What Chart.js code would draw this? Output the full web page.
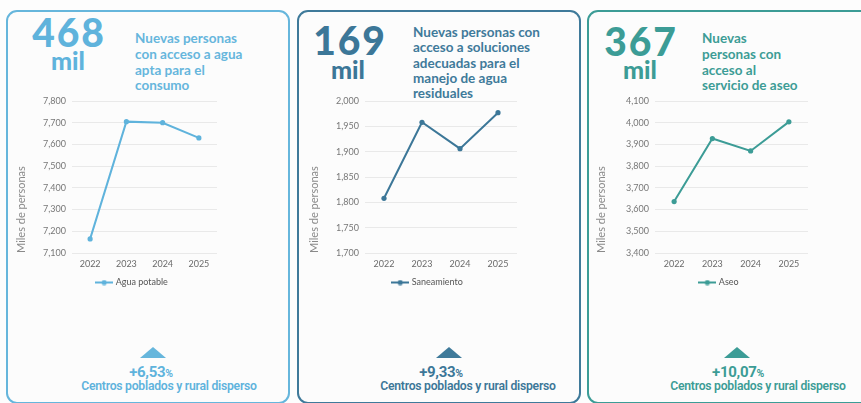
<!DOCTYPE html>
<html><head><meta charset="utf-8">
<script src="https://cdn.jsdelivr.net/npm/chart.js@4.4.1/dist/chart.umd.min.js"></script>
<style>
html,body{margin:0;padding:0;background:#fdfdfd;width:861px;height:403px;overflow:hidden;font-family:Lato,"Open Sans",sans-serif;position:relative}
.card{position:absolute;top:10px;width:280px;height:390px;border:2px solid;border-radius:11px;background:#fcfcfc}
.num{position:absolute;font-weight:900;font-size:39px;line-height:40px;text-align:center;width:120px;letter-spacing:1.8px}
.mil{position:absolute;font-weight:900;font-size:25px;line-height:25px;text-align:center;width:120px}
.ttl{position:absolute;font-weight:700;font-size:13.5px;line-height:15.8px;white-space:nowrap}
canvas{position:absolute}
.tri{position:absolute;width:26px;height:11px;clip-path:polygon(50% 0,100% 100%,0 100%)}
.pct{position:absolute;font-family:Roboto,sans-serif;font-weight:700;font-size:15px;line-height:16px;text-align:center;width:120px;letter-spacing:-0.3px}
.pct small{font-size:10.5px;font-weight:700}
.sub{position:absolute;font-family:Roboto,sans-serif;font-weight:600;font-size:12.2px;line-height:13px;text-align:center;width:220px;letter-spacing:-0.25px}
</style></head>
<body>
<div class="card" style="left:6px;border-color:#66b6dc"></div>
<div class="card" style="left:297px;border-color:#3f7a9a"></div>
<div class="card" style="left:587px;border-color:#3c9c96"></div>

<div class="num" style="left:9px;top:12px;color:#5fb3dc">468</div>
<div class="mil" style="left:8px;top:48px;color:#5fb3dc">mil</div>
<div class="ttl" style="left:135px;top:31px;color:#66b6dc">Nuevas personas<br>con acceso a agua<br>apta para el<br>consumo</div>

<div class="num" style="left:290px;top:20px;color:#3c7798">169</div>
<div class="mil" style="left:288px;top:57px;color:#3c7798">mil</div>
<div class="ttl" style="left:413px;top:25px;line-height:15.3px;color:#3f7a9a">Nuevas personas con<br>acceso a soluciones<br>adecuadas para el<br>manejo de agua<br>residuales</div>

<div class="num" style="left:581px;top:21px;color:#3c9c96">367</div>
<div class="mil" style="left:580px;top:57px;color:#3c9c96">mil</div>
<div class="ttl" style="left:702px;top:31px;color:#3c9c96">Nuevas<br>personas con<br>acceso al<br>servicio de aseo</div>

<canvas id="c1" width="215" height="210" style="left:8px;top:88px;width:215px;height:210px"></canvas>
<canvas id="c2" width="224" height="210" style="left:299px;top:88px;width:224px;height:210px"></canvas>
<canvas id="c3" width="225" height="210" style="left:589px;top:88px;width:225px;height:210px"></canvas>

<div class="tri" style="left:140px;top:347px;background:#66b6dc"></div>
<div class="pct" style="left:91px;top:364px;color:#5fb3dc">+6,53<small>%</small></div>
<div class="sub" style="left:59px;top:380px;color:#5fb3dc">Centros poblados y rural disperso</div>

<div class="tri" style="left:436px;top:347px;background:#3f7a9a"></div>
<div class="pct" style="left:381px;top:364px;color:#3c7798">+9,33<small>%</small></div>
<div class="sub" style="left:358px;top:380px;color:#3c7798">Centros poblados y rural disperso</div>

<div class="tri" style="left:724px;top:347px;background:#3c9c96"></div>
<div class="pct" style="left:678px;top:364px;color:#3c9c96">+10,07<small>%</small></div>
<div class="sub" style="left:648px;top:380px;color:#3c9c96">Centros poblados y rural disperso</div>

<script>
const years = ['2022', '2023', '2024', '2025'];
const aguaValues = [7165, 7705, 7700, 7630];
const saneamientoValues = [1808, 1958, 1906, 1977];
const aseoValues = [3637, 3927, 3870, 4004];
const aguaAxis = [7100, 7800, 100];
const saneamientoAxis = [1700, 2000, 50];
const aseoAxis = [3400, 4100, 100];

function legendMarker(color) {
  const c = document.createElement('canvas');
  c.width = 18; c.height = 6;
  const g = c.getContext('2d');
  g.strokeStyle = color; g.lineWidth = 2;
  g.beginPath(); g.moveTo(0, 3); g.lineTo(18, 3); g.stroke();
  g.fillStyle = color;
  g.beginPath(); g.arc(9, 3, 2.6, 0, Math.PI * 2); g.fill();
  return c;
}

function makeChart(id, color, label, values, axis, axisWidth, titlePad, dx) {
  const shift = {
    id: 'shiftLegend',
    afterLayout(chart) {
      const l = chart.legend;
      if (l) { l.left -= dx; l.right -= dx; }
    }
  };
  new Chart(document.getElementById(id), {
    type: 'line',
    data: {
      labels: years,
      datasets: [{
        label: label, data: values,
        borderColor: color, backgroundColor: color,
        borderWidth: 2, pointRadius: 2.6, pointBorderWidth: 0,
        pointBackgroundColor: color, tension: 0
      }]
    },
    options: {
      responsive: false, animation: false,
      layout: { padding: { top: 13, left: 0, right: 6, bottom: 1 } },
      scales: {
        x: {
          offset: true,
          grid: { display: false, drawTicks: false },
          border: { display: false },
          ticks: { font: { size: 9, family: 'Lato' }, color: '#6a6a6a', padding: 6 },
          afterFit: a => { a.height = 20; }
        },
        y: {
          min: axis[0], max: axis[1],
          ticks: {
            stepSize: axis[2], font: { size: 9, family: 'Lato' }, color: '#777', padding: 6,
            callback: v => v.toLocaleString('en-US')
          },
          grid: { color: '#e9e9e9', drawTicks: false, lineWidth: 1 },
          border: { display: false },
          title: {
            display: true, text: 'Miles de personas', align: 'start',
            font: { size: 11, family: 'Lato' }, color: '#8a8a8a',
            padding: { top: titlePad, bottom: 0 }
          },
          afterFit: a => { a.width = axisWidth; }
        }
      },
      plugins: {
        legend: {
          position: 'bottom', fullSize: false,
          labels: {
            usePointStyle: true, pointStyle: legendMarker(color), pointStyleWidth: 14,
            font: { size: 9, family: 'Lato' }, color: '#555', padding: 5, boxHeight: 6
          }
        },
        tooltip: { enabled: false }
      }
    },
    plugins: [shift]
  });
}

makeChart('c1', '#5fb3dc', 'Agua potable', aguaValues, aguaAxis, 64, 7, 12);
makeChart('c2', '#3c7798', 'Saneamiento', saneamientoValues, saneamientoAxis, 66, 9, 13);
makeChart('c3', '#3c9c96', 'Aseo', aseoValues, aseoAxis, 66, 6, 12);
</script>
</body></html>
